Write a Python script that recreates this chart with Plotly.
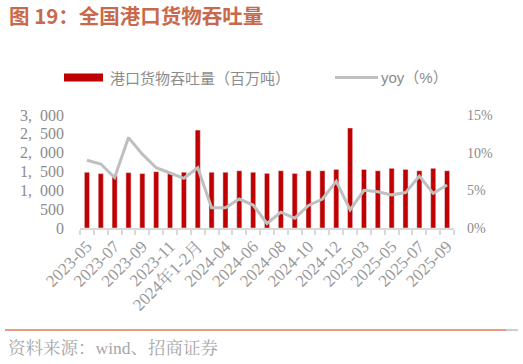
import plotly.graph_objects as go

categories = ["2023-05", "2023-06", "2023-07", "2023-08", "2023-09", "2023-10", "2023-11", "2023-12",
              "2024年1-2月", "2024-03", "2024-04", "2024-05", "2024-06", "2024-07", "2024-08", "2024-09",
              "2024-10", "2024-11", "2024-12", "2025年1-2月", "2025-03", "2025-04", "2025-05", "2025-06",
              "2025-07", "2025-08", "2025-09"]
throughput = [1480, 1445, 1400, 1470, 1445, 1495, 1440, 1480, 2600, 1480, 1480, 1520, 1480, 1450,
              1520, 1450, 1520, 1520, 1555, 2655, 1555, 1520, 1585, 1555, 1520, 1585, 1520]
yoy = [9.0, 8.5, 6.7, 12.0, 9.8, 8.0, 7.3, 6.6, 8.0, 2.7, 2.7, 3.85, 3.05, 0.6, 2.1, 1.3, 3.0,
       3.85, 6.2, 2.4, 5.0, 4.8, 4.4, 4.7, 6.9, 4.6, 5.7]
left_ticks = [0, 500, 1000, 1500, 2000, 2500, 3000]
left_text = ["0", "500", "1,\u2002000", "1,\u2002500", "2,\u2002000", "2,\u2002500", "3,\u2002000"]
right_ticks = [0, 5, 10, 15]
right_text = ["0%", "5%", "10%", "15%"]
x_text = [c if i % 2 == 0 else "" for i, c in enumerate(categories)]

title_text = "图 19：全国港口货物吞吐量"
bar_name = "港口货物吞吐量（百万吨）"
line_name = "yoy（%）"
source_text = "资料来源：wind、招商证券"

SERIF = "Liberation Serif, Noto Serif CJK SC, Noto Sans CJK SC"
CJK = "Noto Sans CJK SC"
GRAY = "#8c8c8c"

fig = go.Figure()
fig.add_trace(go.Bar(x=categories, y=throughput, name=bar_name, marker_color="#c00000",
                     showlegend=False, yaxis="y"))
fig.add_trace(go.Scatter(x=categories, y=yoy, name=line_name, mode="lines",
                         line=dict(color="#bfbfbf", width=3), showlegend=False, yaxis="y2"))

fig.update_layout(
    width=523, height=364,
    margin=dict(l=80, r=69, t=115, b=136),
    paper_bgcolor="white", plot_bgcolor="white",
    bargap=0.63,
    font=dict(family=SERIF, color=GRAY, size=14),
    xaxis=dict(type="category", tickmode="array", tickvals=categories, ticktext=x_text,
               tickangle=-45, tickson="boundaries", ticks="outside", ticklen=5,
               tickcolor="#d9d9d9", tickwidth=1.5, showline=True, linecolor="#d9d9d9",
               linewidth=1.5, showgrid=False, tickfont=dict(family=SERIF, size=17, color="#999999"),
               range=[-0.5, len(categories) - 0.5]),
    yaxis=dict(range=[0, 3000], tickmode="array", tickvals=left_ticks, ticktext=left_text,
               showgrid=False, zeroline=False, showline=False, ticks="",
               ticklabelstandoff=15, tickfont=dict(family=SERIF, size=16, color=GRAY)),
    yaxis2=dict(range=[0, 15], tickmode="array", tickvals=right_ticks, ticktext=right_text,
                overlaying="y", side="right", showgrid=False, zeroline=False, showline=False,
                ticks="", ticklabelstandoff=12, tickfont=dict(family=SERIF, size=14, color=GRAY)),
)

def px_x(p):
    return (p - 80) / 374

def px_y(p):
    return (228 - p) / 113

# title
fig.add_annotation(text="<b>" + title_text + "</b>", xref="paper", yref="paper",
                   x=px_x(7), y=px_y(15), xanchor="left", yanchor="middle",
                   showarrow=False, font=dict(family=CJK, size=20.5, color="#c8694c"))

# legend (manual)
fig.add_shape(type="rect", xref="paper", yref="paper", x0=px_x(64), x1=px_x(103),
              y0=px_y(81.5), y1=px_y(73.5), fillcolor="#c00000", line_width=0)
fig.add_annotation(text=bar_name, xref="paper", yref="paper", x=px_x(108), y=px_y(77),
                   xanchor="left", yanchor="middle", showarrow=False,
                   font=dict(family=CJK, size=15, color=GRAY))
fig.add_shape(type="line", xref="paper", yref="paper", x0=px_x(335), x1=px_x(378),
              y0=px_y(77.5), y1=px_y(77.5), line=dict(color="#bfbfbf", width=3))
fig.add_annotation(text=line_name, xref="paper", yref="paper", x=px_x(379), y=px_y(77),
                   xanchor="left", yanchor="middle", showarrow=False,
                   font=dict(family="Liberation Sans, " + CJK, size=15, color=GRAY))

# bottom rule and source
fig.add_shape(type="line", xref="paper", yref="paper", x0=px_x(5), x1=px_x(506),
              y0=px_y(330), y1=px_y(330), line=dict(color="#e07a55", width=1.5))
fig.add_shape(type="line", xref="paper", yref="paper", x0=px_x(506), x1=px_x(518),
              y0=px_y(330), y1=px_y(330), line=dict(color="#bdbdbd", width=1.5))
fig.add_annotation(text=source_text, xref="paper", yref="paper", x=px_x(6), y=px_y(348),
                   xanchor="left", yanchor="middle", showarrow=False,
                   font=dict(family=SERIF, size=17.5, color="#a6a6a6"))

fig.write_html("out.html")
